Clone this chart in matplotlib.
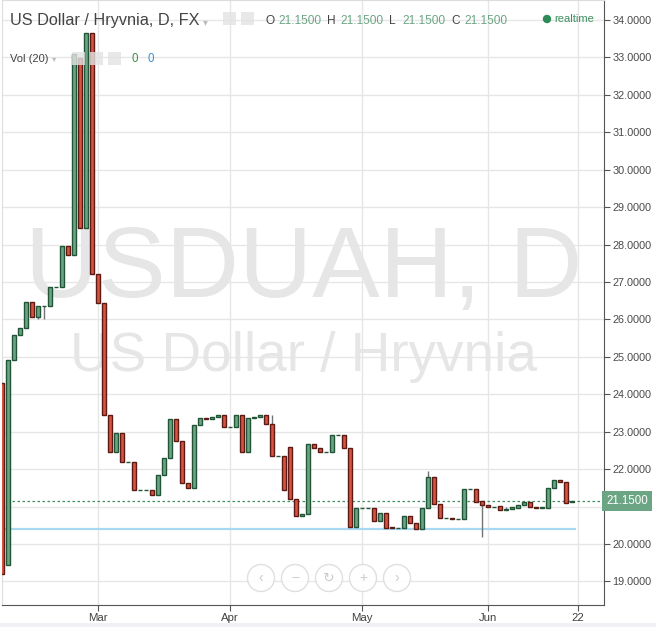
import numpy as np
import pandas as pd
import matplotlib
matplotlib.use("Agg")
from matplotlib import pyplot as plt
from matplotlib.patches import Circle, Rectangle
from matplotlib import transforms

plt.rcParams['font.family'] = ['Liberation Sans', 'DejaVu Sans']

# Datos diarios USD/UAH (feb-jun 2015)
fechas = pd.bdate_range('2015-02-06', periods=96)
opens = [24.30, 19.45, 24.92, 25.58, 25.77, 26.47, 26.06, 26.35, 26.35, 26.86,
         26.86, 27.96, 27.71, 32.98, 28.43, 33.66, 27.21, 26.43, 23.44, 22.45,
         22.96, 22.18, 22.18, 21.44, 21.44, 21.44, 21.30, 21.84, 22.29, 23.34,
         22.74, 21.62, 21.49, 23.17, 23.37, 23.33, 23.39, 23.44, 23.12, 23.12,
         23.44, 22.45, 23.36, 23.40, 23.44, 23.20, 22.34, 22.34, 22.58, 21.19,
         20.74, 20.80, 22.66, 22.56, 22.45, 22.45, 22.90, 22.90, 22.56, 20.45,
         20.95, 20.95, 20.95, 20.62, 20.84, 20.45, 20.43, 20.44, 20.74, 20.55,
         20.39, 20.95, 21.78, 21.06, 20.69, 20.69, 20.66, 20.66, 21.46, 21.46,
         21.14, 21.03, 20.98, 21.01, 20.90, 20.93, 20.95, 21.03, 21.11, 21.00,
         20.95, 20.97, 21.49, 21.70, 21.65, 21.12]
closes = [19.20, 24.92, 25.58, 25.77, 26.47, 26.06, 26.35, 26.35, 26.86, 26.86,
          27.96, 27.71, 33.09, 28.43, 33.66, 27.21, 26.43, 23.44, 22.45, 22.96,
          22.18, 22.18, 21.44, 21.44, 21.44, 21.30, 21.84, 22.29, 23.34, 22.74,
          21.62, 21.49, 23.17, 23.37, 23.33, 23.39, 23.44, 23.12, 23.12, 23.44,
          22.45, 23.36, 23.40, 23.44, 23.20, 22.34, 22.34, 21.44, 21.19, 20.74,
          20.80, 22.66, 22.56, 22.45, 22.45, 22.90, 22.90, 22.56, 20.45, 20.95,
          20.95, 20.95, 20.62, 20.84, 20.44, 20.43, 20.44, 20.74, 20.55, 20.39,
          20.95, 21.78, 21.06, 20.69, 20.69, 20.66, 20.66, 21.46, 21.46, 21.12,
          21.03, 20.98, 20.98, 20.90, 20.94, 20.99, 21.04, 21.11, 21.00, 20.95,
          20.99, 21.49, 21.70, 21.65, 21.09, 21.15]
# mechas que salen del cuerpo (indice: valor)
highs_extra = {45: 23.45, 71: 21.95, 77: 21.48, 84: 20.99, 87: 21.13}
lows_extra = {6: 26.00, 7: 26.00, 80: 20.20}

ultimo = 21.15
soporte = 20.41
tick_fechas = ['2015-03-02', '2015-04-01', '2015-05-01', '2015-06-01', '2015-06-22']
tick_labels = ['Mar', 'Apr', 'May', 'Jun', '22']
y_ticks = np.arange(19, 35)

opens = np.array(opens)
closes = np.array(closes)
highs = np.maximum(opens, closes)
lows = np.minimum(opens, closes)
for k, v in highs_extra.items():
    highs[k] = v
for k, v in lows_extra.items():
    lows[k] = v
x = np.arange(len(opens))
sube = closes >= opens

W, H = 656, 627
fig = plt.figure(figsize=(W / 100, H / 100), dpi=100)
ax = fig.add_axes([2 / W, 22 / H, 602 / W, 605 / H])
ax.set_xlim(-0.05, 100.3)
ax.set_ylim(18.37, 34.534)

# marcas de agua
ax.text(50.2, 27.3, 'USDUAH, D', ha='center', va='center', fontsize=73,
        color='#e6e6e6', zorder=0)
ax.text(50.2, 25.0, 'US Dollar / Hryvnia', ha='center', va='center',
        fontsize=39.5, color='#e6e6e6', zorder=0)

# rejilla
tick_pos = [np.busday_count(fechas[0].date(), pd.Timestamp(d).date()) for d in tick_fechas]
for yy in y_ticks:
    ax.axhline(yy, color='#e6e6e6', lw=1, zorder=0.5)
for p in tick_pos:
    ax.axvline(p, color='#e6e6e6', lw=1, zorder=0.5)

# lineas horizontales
ax.axhline(ultimo, color='#3f8f5f', lw=0.9, ls=(0, (2, 2)), zorder=1)
ax.hlines(soporte, -0.05, 95.6, color='#a8d8f2', lw=1.6, zorder=1)

# velas
ax.vlines(x, lows, highs, color='#737375', lw=1, zorder=2)
ax.bar(x[sube], (closes - opens)[sube], bottom=opens[sube], width=0.72,
       color='#6ba583', edgecolor='#225437', lw=1, zorder=3)
ax.bar(x[~sube], (opens - closes)[~sube], bottom=closes[~sube], width=0.72,
       color='#d75442', edgecolor='#5b1a13', lw=1, zorder=3)

# ejes (la etiqueta 21.0000 queda tapada por la del ultimo precio)
ax.yaxis.tick_right()
ax.set_yticks(y_ticks)
ax.set_yticklabels(['' if v == 21 else f'{v:.4f}' for v in y_ticks])
ax.set_xticks(tick_pos)
ax.set_xticklabels(tick_labels)
ax.tick_params(axis='y', colors='#555555', labelsize=7.8, length=4, pad=2,
               labelcolor='#4a4a4a')
ax.tick_params(axis='x', colors='#555555', labelsize=8.2, length=4, pad=2,
               labelcolor='#404040')
for s in ['right', 'bottom']:
    ax.spines[s].set_color('#555555')
for s in ['left', 'top']:
    ax.spines[s].set_color('#dddddd')

# etiqueta del ultimo precio
tr = transforms.blended_transform_factory(ax.transAxes, ax.transData)
ax.text(1.004, ultimo, '21.1500', transform=tr, ha='left', va='center',
        fontsize=8.3, color='white', zorder=5, clip_on=False,
        bbox=dict(boxstyle='square,pad=0.35', fc='#6ba583', ec='none'))

# encabezado
def ftext(px, py, s, **kw):
    fig.text(px / W, 1 - py / H, s, va='center', **kw)

ftext(10, 21, 'US Dollar / Hryvnia, D, FX', fontsize=11.7, color='#444444')
ftext(203, 22, '▾', fontsize=7, color='#bbbbbb')
ftext(10, 59, 'Vol (20)', fontsize=8, color='#444444')
ftext(52, 60, '▾', fontsize=6, color='#bbbbbb')
ftext(131, 59, '0', fontsize=8.3, color='#3f8f3f')
ftext(148, 59, '0', fontsize=8.3, color='#3a8fd0')
for px, py in [(223, 12), (241, 12), (72, 52), (90, 52), (108, 52)]:
    fig.add_artist(Rectangle((px / 100, (H - py - 13) / 100), 0.13, 0.13,
                             transform=fig.dpi_scale_trans, fc='#e3e3e3',
                             ec='none', alpha=0.8))

xx = 265
for letra in ['O', 'H', 'L', 'C']:
    ftext(xx, 21, letra, fontsize=8.6, color='#444444')
    ftext(xx + 13, 21, '21.1500', fontsize=8.6, color='#6ba583')
    xx += 62
fig.add_artist(Circle((547 / 100, (H - 19) / 100), 0.035,
                      transform=fig.dpi_scale_trans, color='#2e8b57'))
ftext(554, 19, 'realtime', fontsize=8, color='#3f8f5f')

# botones de navegacion
for bx, g in zip([261, 295, 329, 363, 397], ['‹', '−', '↻', '+', '›']):
    fig.add_artist(Circle((bx / 100, (H - 578) / 100), 0.135,
                          transform=fig.dpi_scale_trans, fc='white',
                          ec='#dcdcdc', lw=1, alpha=0.9, zorder=10))
    fig.text(bx / W, 1 - 578 / H, g, ha='center', va='center', fontsize=10,
             color='#cccccc', zorder=11)

# franja inferior
fig.add_artist(Rectangle((0, 0), 1, 4 / H, transform=fig.transFigure,
                         fc='#f0f0f6', ec='none'))

fig.savefig('out.png', dpi=100, facecolor='white')
